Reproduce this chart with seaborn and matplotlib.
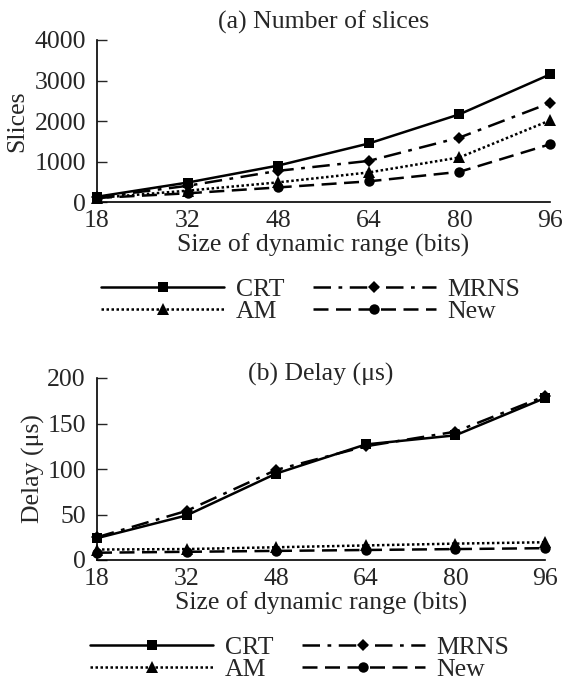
import numpy as np
import pandas as pd
import matplotlib
matplotlib.use("Agg")
import matplotlib.pyplot as plt
import seaborn as sns

bits = ["18", "32", "48", "64", "80", "96"]
series = ["CRT", "MRNS", "AM", "New"]

slices_crt = [130, 480, 900, 1445, 2165, 3150]
slices_mrns = [115, 400, 770, 1015, 1590, 2445]
slices_am = [100, 280, 485, 730, 1100, 2015]
slices_new = [100, 215, 360, 510, 745, 1425]

delay_crt = [24, 49, 95, 127, 137, 178]
delay_mrns = [25, 54, 99, 125, 141, 180]
delay_am = [11.5, 12, 14, 16, 18, 19.5]
delay_new = [8, 9, 10, 11, 12, 13]

styles = {
    "CRT": dict(linestyle="-", marker="s", markersize=7.5),
    "MRNS": dict(linestyle=(0, (7, 3, 1.5, 3)), marker="D", markersize=6),
    "AM": dict(linestyle=(0, (1, 1)), marker="^", markersize=8),
    "New": dict(linestyle=(0, (6, 3)), marker="o", markersize=7.5),
}

FS = 18.5

sns.set_theme(style="ticks")
plt.rcParams["font.family"] = ["Liberation Serif", "DejaVu Serif"]
plt.rcParams["font.size"] = FS


def draw_panel(ax, values, ymax, yticks, title, ylabel, title_y, ylab_x):
    pos = np.arange(len(bits))
    for name in ["CRT", "AM", "MRNS", "New"]:
        df = pd.DataFrame({"x": pos, "y": values[name]})
        sns.lineplot(data=df, x="x", y="y", ax=ax, color="black",
                     linewidth=1.8, markeredgewidth=0, label=name,
                     clip_on=False, **styles[name])
    ax.set_xlim(0, len(bits) - 1)
    ax.set_ylim(0, ymax)
    ax.set_xticks(pos)
    ax.set_xticklabels(bits)
    ax.set_yticks(yticks)
    ax.tick_params(axis="y", direction="in", length=7, width=1, pad=8,
                   labelsize=FS)
    ax.tick_params(axis="x", length=0, pad=6, labelsize=FS)
    sns.despine(ax=ax)
    for sp in ax.spines.values():
        sp.set_linewidth(1.2)
        sp.set_color("black")
    ax.set_xlabel("Size of dynamic range (bits)", fontsize=FS, labelpad=1)
    ax.set_ylabel(ylabel, fontsize=FS)
    ax.yaxis.set_label_coords(ylab_x, 0.5)
    ax.text(0.5, title_y, title, transform=ax.transAxes, ha="center",
            va="center", fontsize=FS)
    handles, labels = ax.get_legend_handles_labels()
    ax.get_legend().remove()
    return handles, labels


W, H = 565, 683
fig = plt.figure(figsize=(W / 100, H / 100), dpi=100)
ax1 = fig.add_axes([97 / W, 1 - 202 / H, 453 / W, 162 / H])
ax2 = fig.add_axes([97 / W, 1 - 560 / H, 448 / W, 182 / H])

h1, l1 = draw_panel(ax1,
                    {"CRT": slices_crt, "MRNS": slices_mrns,
                     "AM": slices_am, "New": slices_new},
                    4000, [0, 1000, 2000, 3000, 4000],
                    "(a) Number of slices", "Slices", 1.11, -0.152)
h2, l2 = draw_panel(ax2,
                    {"CRT": delay_crt, "MRNS": delay_mrns,
                     "AM": delay_am, "New": delay_new},
                    200, [0, 50, 100, 150, 200],
                    "(b) Delay (μs)", "Delay (μs)", 1.02, -0.116)

for handles, labels, x0, ytop in [(h1, l1, 101, 278), (h2, l2, 90, 636)]:
    fig.legend(handles, labels, loc="upper left",
               bbox_to_anchor=(x0 / W, 1 - ytop / H),
               bbox_transform=fig.transFigure, ncol=2, frameon=False,
               fontsize=FS, handlelength=4.8, handletextpad=0.45,
               columnspacing=1.1, labelspacing=-0.05, borderpad=0,
               borderaxespad=0)

fig.savefig("out.png", dpi=100)
